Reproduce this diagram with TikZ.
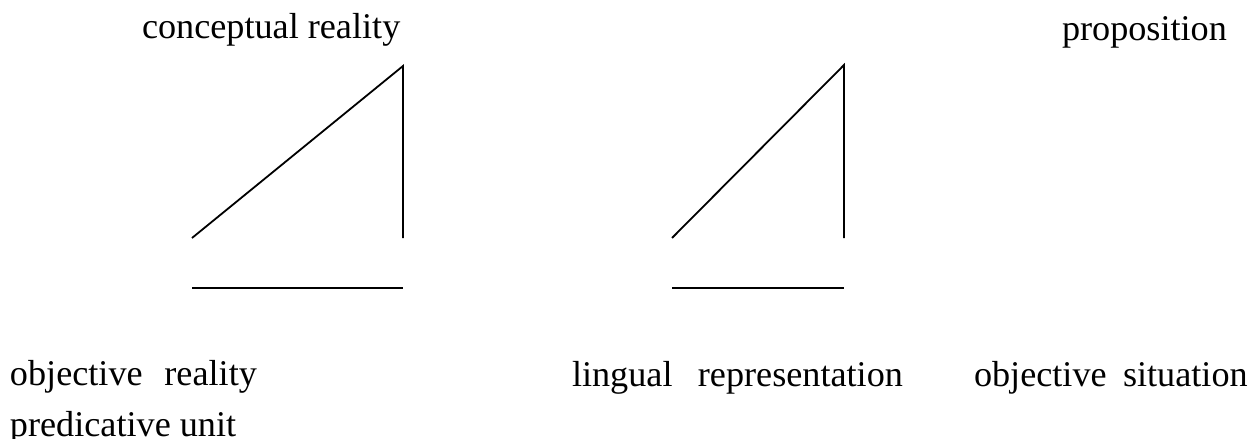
\documentclass[tikz,border=0pt]{standalone}
\usepackage{fontspec}
\setmainfont{Liberation Serif}
\usepackage{tikz}
\usetikzlibrary{positioning}
\tikzset{
  sq label/.style={
    anchor=base west,
    inner sep=0pt,
    outer sep=0pt,
    font=\fontsize{18.1}{22}\selectfont,
  },
  sq line/.style={line width=0.9pt, line cap=butt},
}

\begin{document}
\begin{tikzpicture}[x=0.5pt, y=-0.5pt]
  \useasboundingbox (0,0) rectangle (1260,439);

  % labels
  \node[sq label] (concept) at (142,39) {conceptual reality};
  \node[sq label] (prop) at (1062,40) {proposition};
  \node[sq label] (objreal) at (10,385) {objective\hspace{0.6em}reality};
  \node[sq label] (predunit) at (10,436) {predicative unit};
  \node[sq label] (lingrep) at (572,386) {lingual\hspace{0.7em}representation};
  \node[sq label] (objsit) at (974,386) {objective\hspace{0.45em}situation};

  % left triangle
  \coordinate (lA) at (192,238);
  \coordinate (lB) at (403,66);
  \coordinate (lC) at (403,238);
  \coordinate (lD) at (192,288);
  \coordinate (lE) at (403,288);
  \draw[sq line] (lA) -- (lB) -- (lC);
  \draw[sq line] (lD) -- (lE);

  % right triangle
  \coordinate (rA) at (672,238);
  \coordinate (rB) at (844,65);
  \coordinate (rC) at (844,238);
  \coordinate (rD) at (672,288);
  \coordinate (rE) at (844,288);
  \draw[sq line] (rA) -- (rB) -- (rC);
  \draw[sq line] (rD) -- (rE);
\end{tikzpicture}
\end{document}
